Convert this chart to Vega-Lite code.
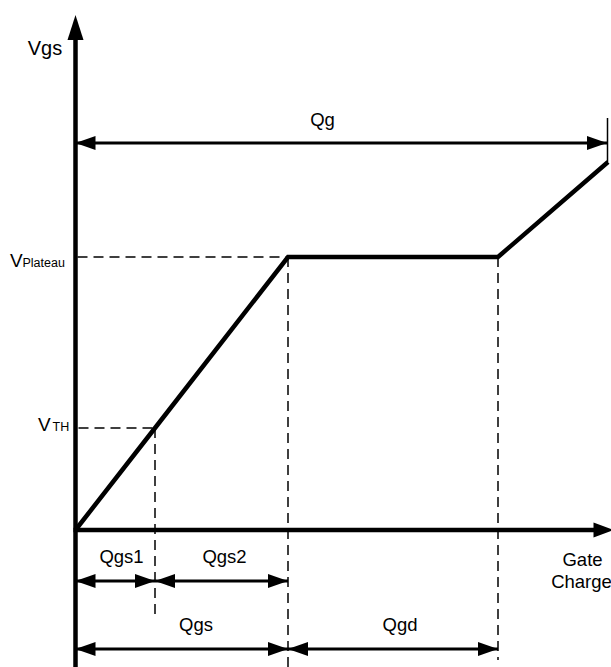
{
  "$schema": "https://vega.github.io/schema/vega-lite/v6.json",
  "width": 611,
  "height": 667,
  "padding": 0,
  "autosize": "none",
  "background": "white",
  "config": {"view": {"stroke": null}, "text": {"font": "Liberation Sans", "color": "black"}},
  "datasets": {
    "axes": [
      {"q": 0, "v": -2.8, "q2": 0, "v2": 9.9},
      {"q": -0.2, "v": 0, "q2": 52.5, "v2": 0}
    ],
    "axisUp": [{"q": 0, "v": 10.3}],
    "axisRight": [{"q": 53.85, "v": 0}],
    "curve": [
      {"q": 0, "v": 0},
      {"q": 7.95, "v": 2.04},
      {"q": 21.25, "v": 5.46},
      {"q": 42.25, "v": 5.46},
      {"q": 53.25, "v": 7.36}
    ],
    "dims": [
      {"name": "Qg", "q": 0, "q2": 53.15, "v": 7.74},
      {"name": "Qgs1", "q": 0, "q2": 7.95, "v": -1.02},
      {"name": "Qgs2", "q": 7.95, "q2": 21.25, "v": -1.02},
      {"name": "Qgs", "q": 0, "q2": 21.25, "v": -2.38},
      {"name": "Qgd", "q": 21.25, "q2": 42.25, "v": -2.38}
    ],
    "dashes": [
      {"q": 0.2, "v": 5.46, "q2": 21.25, "v2": 5.46},
      {"q": 0.3, "v": 2.04, "q2": 7.95, "v2": 2.04},
      {"q": 7.95, "v": 2.04, "q2": 7.95, "v2": -1.76},
      {"q": 21.25, "v": 5.46, "q2": 21.25, "v2": -2.74},
      {"q": 42.25, "v": 5.46, "q2": 42.25, "v2": -2.6}
    ],
    "ticks": [{"q": 53.2, "v": 8.24, "q2": 53.2, "v2": 7.36}],
    "labels": [
      {"text": "Qg", "q": 24.7, "v": 8.08},
      {"text": "Qgs1", "q": 4.6, "v": -0.66},
      {"text": "Qgs2", "q": 14.9, "v": -0.66},
      {"text": "Qgs", "q": 12.05, "v": -2.02},
      {"text": "Qgd", "q": 32.45, "v": -2.02},
      {"text": "Gate", "q": 50.7, "v": -0.72},
      {"text": "Charge", "q": 50.6, "v": -1.16}
    ],
    "title": [
      {"text": "Vgs", "q": -3.05, "v": 9.5}
    ],
    "bigV": [
      {"text": "V", "q": -6.55, "v": 5.26},
      {"text": "V", "q": -3.75, "v": 1.98}
    ],
    "subs": [
      {"text": "Plateau", "q": -5.3, "v": 5.26},
      {"text": "TH", "q": -2.3, "v": 1.98}
    ]
  },
  "encoding": {
    "x": {"field": "q", "type": "quantitative", "scale": {"domain": [-7.55, 53.55], "nice": false, "zero": false}, "axis": null},
    "y": {"field": "v", "type": "quantitative", "scale": {"domain": [-2.74, 10.6], "nice": false, "zero": false}, "axis": null}
  },
  "layer": [
    {
      "data": {"name": "dashes"},
      "mark": {"type": "rule", "color": "black", "strokeWidth": 1.5, "strokeDash": [10, 6]},
      "encoding": {"x2": {"field": "q2"}, "y2": {"field": "v2"}}
    },
    {
      "data": {"name": "ticks"},
      "mark": {"type": "rule", "color": "black", "strokeWidth": 1.5},
      "encoding": {"x2": {"field": "q2"}, "y2": {"field": "v2"}}
    },
    {
      "data": {"name": "axes"},
      "mark": {"type": "rule", "color": "black", "strokeWidth": 4.5},
      "encoding": {"x2": {"field": "q2"}, "y2": {"field": "v2"}}
    },
    {
      "data": {"name": "axisUp"},
      "mark": {"type": "point", "filled": true, "color": "black", "opacity": 1, "strokeWidth": 0, "size": 625, "shape": "M0,0L-0.64,2L0.64,2Z"}
    },
    {
      "data": {"name": "axisRight"},
      "mark": {"type": "point", "filled": true, "color": "black", "opacity": 1, "strokeWidth": 0, "size": 420, "shape": "M0,0L-2,-0.72L-2,0.72Z"}
    },
    {
      "data": {"name": "curve"},
      "mark": {"type": "line", "color": "black", "strokeWidth": 4.5, "strokeJoin": "miter"},
      "encoding": {}
    },
    {
      "data": {"name": "dims"},
      "mark": {"type": "rule", "color": "black", "strokeWidth": 3},
      "encoding": {"x2": {"field": "q2"}}
    },
    {
      "data": {"name": "dims"},
      "mark": {"type": "point", "filled": true, "color": "black", "opacity": 1, "strokeWidth": 0, "size": 400, "shape": "M0,0L2,-0.7L2,0.7Z"}
    },
    {
      "data": {"name": "dims"},
      "mark": {"type": "point", "filled": true, "color": "black", "opacity": 1, "strokeWidth": 0, "size": 400, "shape": "M0,0L-2,-0.7L-2,0.7Z"},
      "encoding": {"x": {"field": "q2", "type": "quantitative"}}
    },
    {
      "data": {"name": "labels"},
      "mark": {"type": "text", "fontSize": 18.5, "align": "center", "baseline": "alphabetic"},
      "encoding": {"text": {"field": "text"}}
    },
    {
      "data": {"name": "title"},
      "mark": {"type": "text", "fontSize": 20, "align": "center", "baseline": "alphabetic"},
      "encoding": {"text": {"field": "text"}}
    },
    {
      "data": {"name": "bigV"},
      "mark": {"type": "text", "fontSize": 19, "align": "left", "baseline": "alphabetic"},
      "encoding": {"text": {"field": "text"}}
    },
    {
      "data": {"name": "subs"},
      "mark": {"type": "text", "fontSize": 12.5, "align": "left", "baseline": "alphabetic"},
      "encoding": {"text": {"field": "text"}}
    }
  ]
}
